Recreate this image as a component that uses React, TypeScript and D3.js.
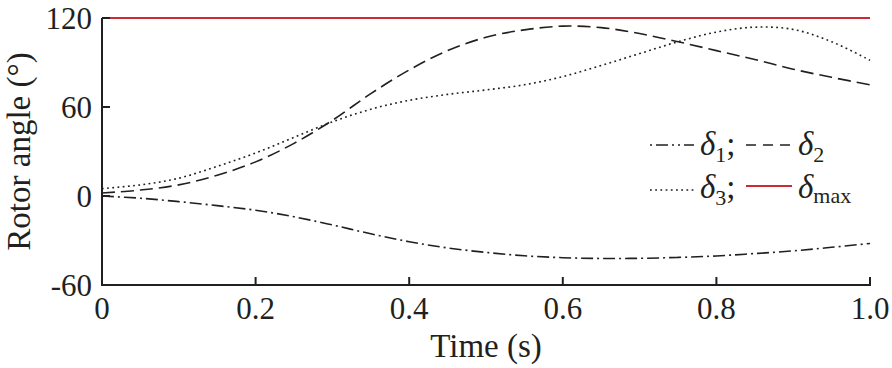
import React from "react";
import * as d3 from "d3";

const times = [0, 0.05, 0.1, 0.15, 0.2, 0.25, 0.3, 0.35, 0.4, 0.45, 0.5, 0.55, 0.6, 0.65, 0.7, 0.75, 0.8, 0.85, 0.9, 0.95, 1.0];
const delta1 = [0, -1.5, -3.8, -6.5, -9.6, -14, -19.5, -25.5, -30.8, -35, -38, -40.3, -41.6, -42.1, -42, -41.4, -40.4, -38.8, -37, -34.6, -32];
const delta2 = [2, 4, 7.5, 14, 23, 35.5, 51, 69, 85, 98, 107, 112, 114.5, 113.5, 109.5, 104, 98, 92, 85.5, 80, 75];
const delta3 = [5, 7.5, 12, 20, 29, 39.5, 50, 58.5, 64.5, 68.5, 71.5, 75, 80.5, 88, 96, 104, 110.5, 113.8, 112.3, 104, 91.5];
const deltaMax = 120;
const xTicks = [0, 0.2, 0.4, 0.6, 0.8, 1.0];
const yTicks = [-60, 0, 60, 120];

const W = 892, H = 368;
const left = 102, right = 870, top = 18, bottom = 285;
const ink = "#231f20";
const red = "#cc2a36";
const font = "'Liberation Serif', 'Times New Roman', serif";

export default function App() {
  const x = d3.scaleLinear().domain([0, 1]).range([left, right]);
  const y = d3.scaleLinear().domain([-60, 120]).range([bottom, top]);
  const line = d3.line<number>().x((_, i) => x(times[i])).y((v) => y(v)).curve(d3.curveCatmullRom.alpha(0.5));

  return (
    <svg width={W} height={H} style={{ position: "absolute", left: 0, top: 0 }} fontFamily={font}>
      <rect width={W} height={H} fill="#fff" />
      {/* curves */}
      <path d={line(delta1) || ""} fill="none" stroke={ink} strokeWidth={1.6} strokeDasharray="12 4 2 4" />
      <path d={line(delta2) || ""} fill="none" stroke={ink} strokeWidth={1.6} strokeDasharray="13 6" />
      <path d={line(delta3) || ""} fill="none" stroke={ink} strokeWidth={1.6} strokeDasharray="1.8 3.4" />
      <line x1={x(0)} x2={x(1)} y1={y(deltaMax)} y2={y(deltaMax)} stroke={red} strokeWidth={1.8} />
      {/* axes */}
      <line x1={left} x2={left} y1={top} y2={bottom + 1} stroke={ink} strokeWidth={2} />
      <line x1={left - 1} x2={right + 1} y1={bottom} y2={bottom} stroke={ink} strokeWidth={2} />
      {yTicks.map((t) => (
        <g key={"y" + t}>
          <line x1={left} x2={left + 8} y1={y(t)} y2={y(t)} stroke={ink} strokeWidth={2} />
          <text x={left - 10} y={y(t) + 11} fontSize={31} textAnchor="end" fill={ink}>{t}</text>
        </g>
      ))}
      {xTicks.map((t) => (
        <g key={"x" + t}>
          <line x1={x(t)} x2={x(t)} y1={bottom} y2={bottom - 8} stroke={ink} strokeWidth={2} />
          <text x={x(t)} y={bottom + 34} fontSize={31} textAnchor="middle" fill={ink}>{t === 0 ? "0" : t.toFixed(1)}</text>
        </g>
      ))}
      <text x={(left + right) / 2} y={357} fontSize={33} textAnchor="middle" fill={ink}>Time (s)</text>
      <text transform={`translate(30, ${(top + bottom) / 2}) rotate(-90)`} fontSize={33} textAnchor="middle" fill={ink}>Rotor angle (°)</text>
      {/* legend */}
      <line x1={650} x2={694} y1={145} y2={145} stroke={ink} strokeWidth={1.6} strokeDasharray="2 4 12 4 2 4" />
      <text x={700} y={155} fontSize={33} fill={ink}>
        <tspan fontStyle="italic">δ</tspan>
        <tspan fontSize={22} dy={7}>1</tspan>
        <tspan dy={-7}>;</tspan>
      </text>
      <line x1={746} x2={792} y1={145} y2={145} stroke={ink} strokeWidth={1.6} strokeDasharray="10 7" />
      <text x={798} y={155} fontSize={33} fill={ink}>
        <tspan fontStyle="italic">δ</tspan>
        <tspan fontSize={22} dy={7}>2</tspan>
      </text>
      <line x1={650} x2={694} y1={190} y2={190} stroke={ink} strokeWidth={1.6} strokeDasharray="1.8 3.4" />
      <text x={700} y={198} fontSize={33} fill={ink}>
        <tspan fontStyle="italic">δ</tspan>
        <tspan fontSize={22} dy={7}>3</tspan>
        <tspan dy={-7}>;</tspan>
      </text>
      <line x1={746} x2={792} y1={186} y2={186} stroke={red} strokeWidth={1.8} />
      <text x={798} y={198} fontSize={33} fill={ink}>
        <tspan fontStyle="italic">δ</tspan>
        <tspan fontSize={22} dy={5}>max</tspan>
      </text>
    </svg>
  );
}
